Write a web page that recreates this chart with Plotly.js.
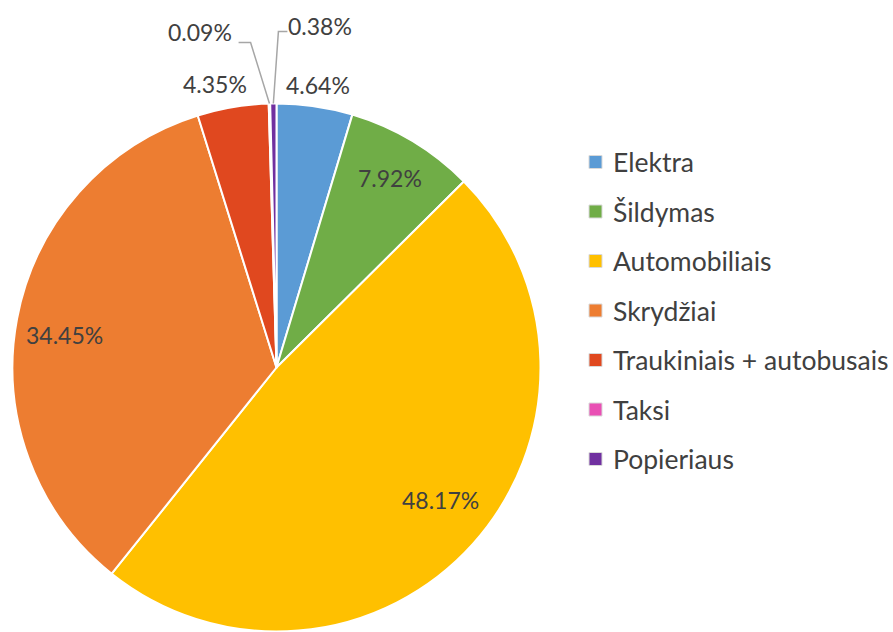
<!DOCTYPE html>
<html>
<head>
<meta charset="utf-8">
<script src="https://cdn.plot.ly/plotly-3.0.1.min.js"></script>
<style>html,body{margin:0;padding:0;background:#fff;}#chart{width:893px;height:632px;}</style>
</head>
<body>
<div id="chart"></div>
<script>
// ---- data ----
const categories = ['Elektra', 'Šildymas', 'Automobiliais', 'Skrydžiai', 'Traukiniais + autobusais', 'Taksi', 'Popieriaus'];
const shares = [4.64, 7.92, 48.17, 34.45, 4.35, 0.09, 0.38];
const colors = ['#5B9BD5', '#70AD47', '#FFC000', '#ED7D31', '#E0481F', '#E94FB4', '#7030A0'];

// ---- style (label placement relative to slice middle) ----
const labelRadius = [1.083, 0.836, 0.80, 0.813, 1.097, 1.302, 1.306];
const labelShiftDeg = [0, 0, -2.9, -1.8, -2.7, -11.4, 8.0];
const leader = [null, null, null, null, null, {elbow: [51, 10], end: [39, 10]}, {elbow: [-42, 6], end: [-33, 6]}];

const W = 893, H = 632;
const cx = 276.5, cy = 367.5, R = 264;
const px = x => x / W, py = y => 1 - y / H;

const total = shares.reduce((a, b) => a + b, 0);
const annotations = [];
const shapes = [];
let cum = 0;
shares.forEach((v, i) => {
  const midFrac = (cum + v / 2) / total;
  cum += v;
  const ang = midFrac * 360 + labelShiftDeg[i];
  const rad = ang * Math.PI / 180;
  const lx = cx + labelRadius[i] * R * Math.sin(rad);
  const ly = cy - labelRadius[i] * R * Math.cos(rad);
  annotations.push({
    x: px(lx), y: py(ly), xref: 'paper', yref: 'paper',
    xanchor: 'center', yanchor: 'middle', showarrow: false,
    text: v.toFixed(2) + '%',
    font: {family: 'Lato, sans-serif', size: 23, color: '#404040'}
  });
  if (leader[i]) {
    const mrad = midFrac * 360 * Math.PI / 180;
    const ex = cx + R * Math.sin(mrad), ey = cy - R * Math.cos(mrad);
    const bx = lx + leader[i].elbow[0], by = ly + leader[i].elbow[1];
    const tx = lx + leader[i].end[0], ty = ly + leader[i].end[1];
    shapes.push({
      type: 'path', xref: 'paper', yref: 'paper',
      path: `M ${px(ex)} ${py(ey)} L ${px(bx)} ${py(by)} L ${px(tx)} ${py(ty)}`,
      line: {color: '#A6A6A6', width: 1.5}
    });
  }
});

// manual legend
const legX = 595.5, legY0 = 162, legStep = 49.5, sq = 13;
categories.forEach((c, i) => {
  const y = legY0 + i * legStep;
  shapes.push({
    type: 'rect', xref: 'paper', yref: 'paper',
    x0: px(legX - sq / 2), x1: px(legX + sq / 2), y0: py(y + sq / 2), y1: py(y - sq / 2),
    fillcolor: colors[i], line: {color: '#D9D9D9', width: 1}
  });
  annotations.push({
    x: px(legX + 15), y: py(y), xref: 'paper', yref: 'paper',
    xanchor: 'left', yanchor: 'middle', showarrow: false,
    text: c, font: {family: 'Lato, sans-serif', size: 26.5, color: '#404040'}
  });
});

const trace = {
  type: 'pie',
  labels: categories,
  values: shares,
  sort: false,
  direction: 'clockwise',
  rotation: 0,
  textinfo: 'none',
  hoverinfo: 'label+percent',
  marker: {colors: colors, line: {color: '#FFFFFF', width: 2}},
  domain: {x: [px(cx - R), px(cx + R)], y: [py(cy + R), py(cy - R)]},
  showlegend: false
};

Plotly.newPlot('chart', [trace], {
  width: W, height: H,
  margin: {l: 0, r: 0, t: 0, b: 0},
  paper_bgcolor: '#FFFFFF',
  showlegend: false,
  annotations: annotations,
  shapes: shapes
}, {displayModeBar: false, staticPlot: true});
</script>
</body>
</html>
